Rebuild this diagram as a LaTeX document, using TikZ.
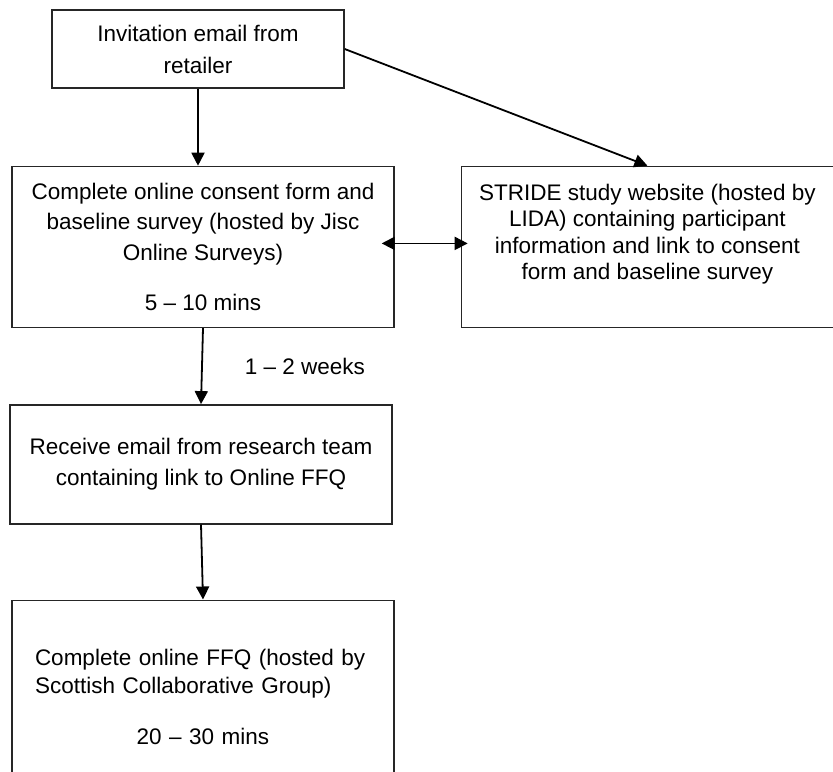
\documentclass[tikz,border=0pt]{standalone}
\usepackage{fontspec}
\setmainfont{Liberation Sans}
\usetikzlibrary{arrows.meta,positioning}

\begin{document}
\begin{tikzpicture}[
    line width=0.9pt, node distance=38pt,
    >={Triangle[length=6.5pt,width=6.5pt]},
    font=\fontsize{11.25}{15}\selectfont,
    box/.style={draw=black!85, line width=0.7pt, rectangle, inner sep=0pt,
      minimum width=191pt, align=center,
      font=\fontsize{11.25}{15.25}\selectfont},
  ]
  \useasboundingbox (0,0) rectangle (416.5pt,-385.5pt);

  \node[box, minimum width=146pt, minimum height=39pt,
    font=\fontsize{11.25}{16}\selectfont] (invite) at (99pt,-24.5pt)
    {Invitation email from\\retailer};
  \node[box, minimum height=80.5pt, below=38.5pt of invite, xshift=2.5pt] (consent)
    {Complete online consent form and\\baseline survey (hosted by Jisc\\Online Surveys)\\[9.75pt]5 – 10 mins};
  \node[box, minimum width=186pt, minimum height=80.5pt, right=33pt of consent,
    font=\fontsize{11.25}{13.15}\selectfont] (website)
    {STRIDE study website (hosted by\\LIDA) containing participant\\information and link to consent\\form and baseline survey\\[1.85pt]\mbox{}};
  \draw[->] (invite.south) -- (invite.south |- consent.north);
  \draw[->] (invite.east) -- (website.north);
  \draw[<->, shorten <=-6.5pt, shorten >=-3.5pt]
    ([yshift=1.75pt]consent.east) -- ([yshift=1.75pt]website.west);

  \node[box, minimum height=59.5pt, below=38pt of consent, xshift=-1pt] (email)
    {Receive email from research team\\containing link to Online FFQ};
  \draw[->] (consent.south) -- (email.north)
    node[midway, right=21pt, inner sep=0pt] (weeks) {1 – 2 weeks};

  \node[box, minimum height=97pt, below=37.5pt of email, xshift=1pt,
    text width=168pt, align=left, font=\fontsize{11.25}{14}\selectfont] (ffq)
    {Complete online FFQ (hosted by\\Scottish Collaborative Group)\\[11.5pt]\makebox[168pt]{20 – 30 mins}};
  \draw[->] (email.south) -- (ffq.north);

\end{tikzpicture}
\end{document}
